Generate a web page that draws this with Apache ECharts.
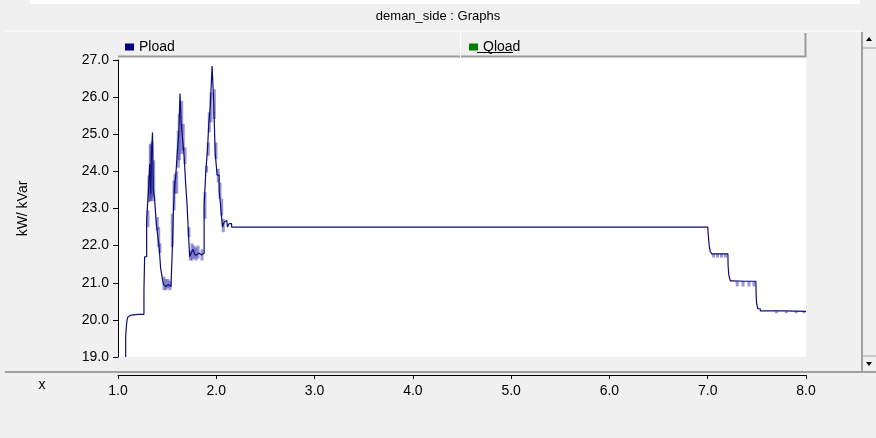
<!DOCTYPE html>
<html>
<head>
    <meta charset="UTF-8">
    <title>deman_side : Graphs</title>
    <script type="text/javascript" src="https://cdn.jsdelivr.net/npm/echarts@6/dist/echarts.min.js"></script>
    <style>
        html, body { margin: 0; padding: 0; background: #f0f0f0; }
        #main { width: 876px; height: 438px; }
    </style>
</head>
<body>
<div id="main"></div>
<script type="text/javascript">
    // Pload centre trace (time, kW)
    var loadX = [1.078, 1.078, 1.086, 1.086, 1.095, 1.105, 1.12, 1.15, 1.264, 1.264,
        1.278, 1.305, 1.315, 1.329, 1.336, 1.346, 1.356, 1.363, 1.379, 1.400,
        1.414, 1.427, 1.440, 1.458, 1.468, 1.488, 1.509, 1.529, 1.552, 1.556,
        1.570, 1.580, 1.597, 1.613, 1.624, 1.638, 1.648, 1.664, 1.682, 1.695,
        1.709, 1.722, 1.736, 1.753, 1.773, 1.793, 1.814, 1.834, 1.868, 1.885,
        1.902, 1.919, 1.929, 1.946, 1.969, 1.980, 1.997, 2.020, 2.038, 2.055,
        2.071, 2.088, 2.106, 2.122, 2.139, 2.173, 7.0, 7.005, 7.01, 7.02,
        7.03, 7.05, 7.205, 7.21, 7.22, 7.24, 7.27, 7.49, 7.495, 7.50,
        7.52, 7.55, 8.0];
    var loadY = [19.0, 19.56, 19.56, 19.85, 19.97, 20.08, 20.13, 20.15, 20.15, 20.8,
        21.7, 22.7, 23.5, 24.2, 23.4, 24.5, 25.05, 23.5, 23.3, 22.6,
        22.2, 21.9, 21.4, 21.15, 20.95, 20.9, 20.95, 20.9, 21.0, 22.0,
        22.9, 23.6, 23.9, 24.6, 25.0, 26.1, 25.3, 24.9, 24.4, 23.66,
        23.13, 22.4, 21.7, 21.8, 21.9, 21.75, 21.8, 21.75, 21.8, 23.1,
        24.0, 24.6, 25.3, 25.7, 26.84, 25.8, 24.5, 23.9, 23.5, 23.0,
        22.5, 22.63, 22.68, 22.5, 22.59, 22.5, 22.5, 22.5, 22.23, 22.0,
        21.85, 21.78, 21.78, 21.45, 21.2, 21.05, 21.04, 21.04, 20.7, 20.45,
        20.3, 20.24, 20.23];

    // fast oscillation bands (time, low, high)
    var bandX = [1.305, 1.315, 1.329, 1.336, 1.346, 1.363, 1.400, 1.414, 1.427, 1.468,
        1.488, 1.509, 1.529, 1.552, 1.570, 1.580, 1.597, 1.613, 1.624, 1.648,
        1.664, 1.682, 1.722, 1.736, 1.753, 1.773, 1.793, 1.814, 1.855, 1.885,
        1.902, 1.919, 1.929, 1.946, 1.980, 1.997, 2.020, 2.038, 2.055, 2.071,
        7.06, 7.10, 7.14, 7.18, 7.30, 7.36, 7.42, 7.47, 7.70, 7.80, 7.90, 7.98];
    var bandLo = [22.5, 23.17, 23.2, 23.2, 23.3, 23.2, 22.41, 21.96, 21.8, 20.8,
        20.8, 20.85, 20.8, 21.96, 22.95, 23.4, 23.4, 24.1, 24.3, 24.47,
        24.56, 24.2, 22.23, 21.6, 21.6, 21.65, 21.6, 21.65, 21.6, 22.72,
        23.97, 24.42, 25.05, 25.32, 25.41, 24.33, 23.7, 23.26, 22.81, 22.36,
        21.68, 21.68, 21.68, 21.68, 20.9, 20.9, 20.9, 20.9, 20.18, 20.18, 20.18, 20.18];
    var bandHi = [22.95, 23.89, 24.74, 24.7, 24.8, 24.3, 22.77, 22.5, 22.06, 21.16,
        21.1, 21.1, 21.05, 22.86, 23.75, 23.94, 24.0, 25.1, 25.55, 25.9,
        25.28, 24.65, 22.5, 21.87, 22.06, 22.0, 21.95, 22.0, 21.9, 23.44,
        24.15, 24.78, 25.59, 26.12, 26.21, 24.78, 24.07, 23.7, 23.26, 22.72,
        21.78, 21.78, 21.78, 21.78, 21.04, 21.04, 21.04, 21.04, 20.23, 20.23, 20.23, 20.23];

    var font = 'Liberation Sans, Arial, sans-serif';

    var loadData = [];
    for (var i = 0; i < loadX.length; i++) {
        loadData.push([loadX[i], loadY[i]]);
    }
    var bandData = [];
    for (var j = 0; j < bandX.length; j++) {
        bandData.push([bandX[j], bandLo[j], bandHi[j]]);
    }

    var myChart = echarts.init(document.getElementById('main'));
    var option = {
        animation: false,
        backgroundColor: '#f0f0f0',
        title: {
            text: 'deman_side : Graphs',
            left: 'center',
            top: 5,
            textStyle: { fontFamily: font, fontSize: 13, fontWeight: 'normal', color: '#000' }
        },
        legend: [{
            data: ['Pload'],
            left: 120,
            top: 35,
            icon: 'rect',
            itemWidth: 9,
            itemHeight: 7,
            itemGap: 5,
            textStyle: { fontFamily: font, fontSize: 14, color: '#000' }
        }, {
            data: ['Qload'],
            left: 464,
            top: 35,
            icon: 'rect',
            itemWidth: 9,
            itemHeight: 7,
            itemGap: 5,
            textStyle: { fontFamily: font, fontSize: 14, color: '#000' }
        }],
        grid: [{
            left: 118,
            top: 60,
            width: 688,
            height: 297,
            show: true,
            backgroundColor: '#ffffff',
            borderWidth: 0
        }, {
            left: 118,
            top: 374,
            width: 688,
            height: 1,
            show: false
        }],
        xAxis: [{
            gridIndex: 0,
            type: 'value',
            min: 1,
            max: 8,
            show: false
        }, {
            gridIndex: 1,
            type: 'value',
            min: 1,
            max: 8,
            interval: 1,
            position: 'bottom',
            axisLine: { lineStyle: { color: '#000', width: 1 } },
            axisTick: { length: 4, lineStyle: { color: '#000' } },
            axisLabel: {
                color: '#000',
                fontFamily: font,
                fontSize: 14,
                margin: 9,
                formatter: function (v) { return v.toFixed(1); }
            },
            splitLine: { show: false }
        }],
        yAxis: [{
            gridIndex: 0,
            type: 'value',
            min: 19,
            max: 27,
            interval: 1,
            name: 'kW/ kVar',
            nameLocation: 'middle',
            nameGap: 88,
            nameRotate: 90,
            nameTextStyle: { fontFamily: font, fontSize: 14, color: '#000' },
            axisLine: { show: true, lineStyle: { color: '#000', width: 1 } },
            axisTick: { show: true, length: 5, lineStyle: { color: '#000' } },
            axisLabel: {
                color: '#000',
                fontFamily: font,
                fontSize: 14,
                margin: 9,
                formatter: function (v) { return v.toFixed(1); }
            },
            splitLine: { show: false }
        }, {
            gridIndex: 1,
            type: 'value',
            show: false
        }],
        graphic: [
            { type: 'rect', z: -1, shape: { x: 30, y: 0, width: 830, height: 4 }, style: { fill: '#ffffff' } },
            { type: 'line', z: -1, shape: { x1: 5, y1: 31, x2: 862, y2: 31 }, style: { stroke: '#ffffff', lineWidth: 1 } },
            { type: 'rect', z: -1, shape: { x: 118, y: 33, width: 688, height: 24 }, style: { fill: '#f0f0f0' } },
            { type: 'rect', z: -1, shape: { x: 119, y: 57, width: 687, height: 4 }, style: { fill: '#ffffff' } },
            { type: 'line', z: -1, shape: { x1: 118, y1: 56.5, x2: 806, y2: 56.5 }, style: { stroke: '#9a9a9a', lineWidth: 2 } },
            { type: 'line', z: -1, shape: { x1: 805.5, y1: 33, x2: 805.5, y2: 57 }, style: { stroke: '#9a9a9a', lineWidth: 2 } },
            { type: 'line', z: -1, shape: { x1: 460.5, y1: 33, x2: 460.5, y2: 57 }, style: { stroke: '#ffffff', lineWidth: 1 } },
            { type: 'line', z: -1, shape: { x1: 477, y1: 52.5, x2: 513, y2: 52.5 }, style: { stroke: '#000', lineWidth: 1 } },
            { type: 'line', z: -1, shape: { x1: 862, y1: 32, x2: 862, y2: 372 }, style: { stroke: '#a0a0a0', lineWidth: 2 } },
            { type: 'line', z: -1, shape: { x1: 863, y1: 48, x2: 876, y2: 48 }, style: { stroke: '#a0a0a0', lineWidth: 1 } },
            { type: 'line', z: -1, shape: { x1: 863, y1: 356, x2: 876, y2: 356 }, style: { stroke: '#a0a0a0', lineWidth: 1 } },
            { type: 'polygon', z: -1, shape: { points: [[866, 41], [872, 41], [869, 37]] }, style: { fill: '#000' } },
            { type: 'polygon', z: -1, shape: { points: [[866, 362], [872, 362], [869, 366]] }, style: { fill: '#000' } },
            { type: 'line', z: -1, shape: { x1: 5, y1: 372, x2: 876, y2: 372 }, style: { stroke: '#a0a0a0', lineWidth: 2 } },
            { type: 'text', z: 5, x: 42, y: 385, style: { text: 'x', fontFamily: font, fontSize: 14, fill: '#000', textAlign: 'center', textVerticalAlign: 'middle' } }
        ],
        series: [{
            name: 'band',
            type: 'custom',
            xAxisIndex: 0,
            yAxisIndex: 0,
            silent: true,
            z: 1,
            renderItem: function (params, api) {
                var top = api.coord([api.value(0), api.value(2)]);
                var bottom = api.coord([api.value(0), api.value(1)]);
                return {
                    type: 'rect',
                    shape: { x: top[0] - 1.5, y: top[1], width: 3, height: bottom[1] - top[1] },
                    style: { fill: 'rgba(50, 50, 170, 0.5)' }
                };
            },
            data: bandData
        }, {
            name: 'Pload',
            type: 'line',
            xAxisIndex: 0,
            yAxisIndex: 0,
            z: 3,
            step: 'middle',
            showSymbol: false,
            color: '#000080',
            lineStyle: { color: '#0c0c78', width: 1.2 },
            data: loadData
        }, {
            name: 'Qload',
            type: 'line',
            xAxisIndex: 0,
            yAxisIndex: 0,
            showSymbol: false,
            color: '#008000',
            data: []
        }]
    };
    myChart.setOption(option);
</script>
</body>
</html>
